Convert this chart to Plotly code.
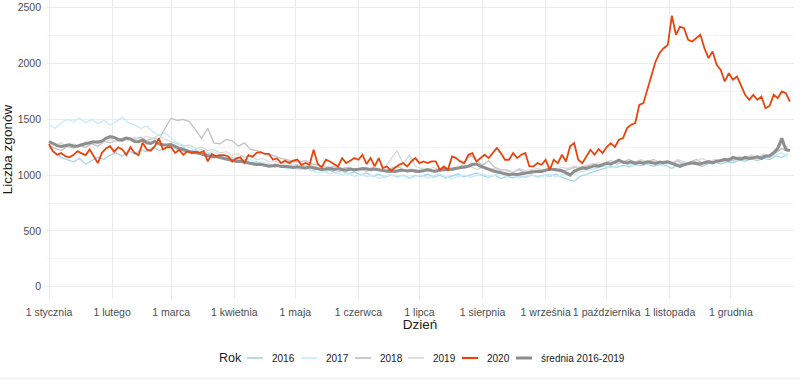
import pandas as pd
import plotly.graph_objects as go

# ---------------- data ----------------
# day-of-year offsets (0 = 1 January)
days_2 = list(range(0, 366, 2))   # sampling for 2020 and the 2016-2019 mean
days_3 = list(range(0, 366, 3))   # sampling for individual years 2016-2019

deaths_2020 = [
    1279, 1212, 1183, 1198, 1170, 1160, 1180, 1215, 1195, 1180, 1230, 1170, 1108, 1200, 1240, 1260,
    1210, 1250, 1230, 1180, 1250, 1200, 1180, 1290, 1230, 1220, 1260, 1330, 1230, 1250, 1250,
    1198, 1227, 1183, 1213, 1200, 1210, 1200, 1215, 1123, 1190, 1170, 1180, 1180, 1170, 1123,
    1150, 1160, 1110, 1180, 1165, 1200, 1205, 1190, 1190, 1140, 1150, 1110, 1130, 1110, 1130,
    1140, 1093, 1110, 1093, 1228, 1100, 1070, 1138, 1123, 1100, 1078, 1153, 1108, 1130, 1153,
    1138, 1183, 1100, 1153, 1078, 1153, 1063, 1078, 1040, 1063, 1093, 1108, 1078, 1123, 1153,
    1108, 1123, 1108, 1123, 1123, 1048, 1078, 1048, 1168, 1153, 1123, 1108, 1183, 1198, 1123,
    1153, 1183, 1153, 1198, 1243, 1198, 1138, 1138, 1198, 1153, 1183, 1198, 1078, 1078, 1108,
    1093, 1138, 1048, 1138, 1108, 1183, 1123, 1258, 1287, 1138, 1108, 1168, 1228, 1183, 1234,
    1198, 1252, 1287, 1252, 1317, 1332, 1422, 1452, 1467, 1630, 1645, 1765, 1900, 2019,
    2097, 2138, 2168, 2430, 2258, 2332, 2318, 2213, 2198, 2228, 2258, 2138, 2049, 2108, 1989,
    1944, 1840, 1914, 1855, 1884, 1795, 1720, 1675, 1720, 1675, 1705, 1600, 1620, 1720, 1690,
    1750, 1735, 1660,
]

mean_2016_2019 = [
    1302, 1285, 1265, 1257, 1265, 1272, 1262, 1260, 1272, 1280, 1287, 1300, 1295, 1305, 1330, 1345,
    1338, 1320, 1318, 1332, 1325, 1302, 1300, 1315, 1290, 1285, 1302, 1280, 1272, 1270, 1275,
    1255, 1240, 1228, 1215, 1205, 1200, 1195, 1183, 1175, 1165, 1168, 1158, 1150, 1140, 1135,
    1123, 1125, 1118, 1108, 1105, 1095, 1098, 1090, 1080, 1085, 1088, 1078, 1080, 1075, 1068,
    1075, 1070, 1065, 1072, 1063, 1058, 1050, 1055, 1060, 1052, 1058, 1050, 1045, 1055, 1048,
    1052, 1060, 1058, 1048, 1055, 1050, 1040, 1035, 1038, 1033, 1042, 1045, 1038, 1043, 1035,
    1033, 1040, 1048, 1040, 1035, 1045, 1050, 1048, 1055, 1060, 1065, 1070, 1080, 1095, 1100,
    1080, 1065, 1055, 1040, 1030, 1020, 1010, 1003, 1010, 1005, 1012, 1018, 1025, 1030, 1035,
    1033, 1045, 1055, 1050, 1048, 1040, 1020, 1000, 1035, 1050, 1065, 1060, 1075, 1085, 1080,
    1095, 1105, 1100, 1120, 1135, 1115, 1110, 1120, 1105, 1115, 1108, 1120, 1110, 1105,
    1118, 1112, 1120, 1105, 1090, 1078, 1095, 1100, 1110, 1105, 1100, 1112, 1120, 1110, 1125,
    1130, 1140, 1135, 1160, 1150, 1145, 1160, 1150, 1155, 1165, 1150, 1170, 1175, 1200, 1240,
    1330, 1230, 1220,
]

deaths_2016 = [
    1250, 1200, 1160, 1140, 1120, 1150, 1100, 1130, 1160, 1140, 1180,
    1200, 1170, 1220, 1190, 1230, 1210, 1250, 1220, 1240,
    1260, 1230, 1250, 1210, 1230, 1190, 1200, 1170, 1180, 1150, 1160,
    1130, 1140, 1110, 1120, 1090, 1100, 1070, 1085, 1060, 1075,
    1050, 1070, 1040, 1055, 1030, 1045, 1020, 1040, 1010, 1030,
    1000, 1020, 990, 1010, 980, 1005, 985, 1000, 975, 995,
    990, 1010, 980, 1000, 975, 990, 1010, 985, 1000, 1020,
    995, 980, 1000, 970, 990, 975, 995, 980, 1000, 985,
    1000, 990, 1010, 980, 960, 945, 990, 1010, 1030, 1045,
    1060, 1080, 1070, 1090, 1075, 1095, 1085, 1100, 1080, 1095,
    1090, 1060, 1100, 1085, 1110, 1095, 1080, 1105, 1120, 1100,
    1120, 1110, 1135, 1125, 1145, 1130, 1150, 1140, 1170, 1160, 1190,
]

deaths_2017 = [
    1450, 1420, 1470, 1500, 1480, 1510, 1470, 1500, 1460, 1490, 1450,
    1480, 1520, 1470, 1450, 1420, 1440, 1390, 1360, 1380,
    1330, 1290, 1270, 1250, 1220, 1230, 1200, 1210, 1180, 1170, 1150,
    1160, 1130, 1140, 1110, 1120, 1090, 1100, 1080, 1060, 1070,
    1050, 1060, 1040, 1020, 1035, 1010, 1030, 1000, 1020, 990,
    1010, 985, 1000, 970, 990, 1005, 980, 995, 970, 990,
    1000, 975, 995, 1010, 985, 970, 990, 1000, 980, 995,
    1010, 990, 1000, 1020, 985, 995, 975, 990, 1005, 980,
    995, 1010, 985, 1000, 1020, 1005, 1030, 1040, 1055, 1070,
    1080, 1065, 1090, 1075, 1100, 1085, 1110, 1090, 1100, 1115,
    1095, 1110, 1090, 1120, 1100, 1130, 1110, 1125, 1105, 1130,
    1140, 1120, 1150, 1135, 1160, 1145, 1170, 1155, 1180, 1200, 1160,
]

deaths_2018 = [
    1260, 1240, 1220, 1260, 1240, 1270, 1250, 1280, 1260, 1300, 1290,
    1310, 1300, 1330, 1320, 1340, 1310, 1330, 1320, 1420,
    1510, 1490, 1500, 1480, 1400, 1330, 1420, 1290, 1280, 1320, 1310,
    1260, 1290, 1230, 1220, 1200, 1190, 1170, 1150, 1140, 1120,
    1120, 1130, 1100, 1090, 1080, 1070, 1085, 1060, 1070, 1050,
    1060, 1045, 1070, 1050, 1040, 1060, 1080, 1050, 1030, 1050,
    1040, 1060, 1030, 1050, 1070, 1040, 1060, 1110, 1180, 1130,
    1090, 1130, 1070, 1050, 1040, 1030, 1050, 1020, 1040, 1030,
    1050, 1040, 1060, 1030, 1050, 1070, 1060, 1080, 1100, 1090,
    1110, 1130, 1100, 1120, 1140, 1110, 1130, 1120, 1140, 1110,
    1120, 1100, 1130, 1090, 1120, 1140, 1110, 1130, 1120, 1140,
    1150, 1130, 1160, 1140, 1170, 1150, 1180, 1160, 1200, 1240, 1210,
]

deaths_2019 = [
    1300, 1270, 1290, 1250, 1280, 1260, 1300, 1280, 1310, 1290, 1320,
    1300, 1330, 1310, 1340, 1320, 1350, 1330, 1360, 1320,
    1300, 1280, 1260, 1270, 1240, 1250, 1220, 1230, 1200, 1210, 1180,
    1190, 1160, 1170, 1140, 1150, 1120, 1130, 1100, 1110, 1090,
    1100, 1080, 1090, 1070, 1080, 1060, 1070, 1050, 1060, 1040,
    1050, 1030, 1060, 1040, 1070, 1150, 1220, 1100, 1180, 1080,
    1060, 1050, 1070, 1040, 1060, 1050, 1070, 1060, 1080, 1050,
    1070, 1050, 1060, 1040, 1050, 1030, 1060, 1040, 1050, 1060,
    1040, 1060, 1050, 1070, 1060, 1080, 1070, 1090, 1100, 1110,
    1100, 1120, 1110, 1130, 1100, 1120, 1140, 1110, 1130, 1120,
    1130, 1110, 1140, 1120, 1100, 1130, 1150, 1120, 1140, 1130,
    1150, 1140, 1170, 1150, 1180, 1160, 1190, 1170, 1210, 1280, 1250,
]

month_ticks = ["2020-01-01", "2020-02-01", "2020-03-01", "2020-04-01", "2020-05-01", "2020-06-01",
               "2020-07-01", "2020-08-01", "2020-09-01", "2020-10-01", "2020-11-01", "2020-12-01"]
month_labels = ["1 stycznia", "1 lutego", "1 marca", "1 kwietnia", "1 maja", "1 czerwca",
                "1 lipca", "1 sierpnia", "1 września", "1 października", "1 listopada", "1 grudnia"]
y_ticks = [0, 500, 1000, 1500, 2000, 2500]

legend_title = "Rok"
series_names = ["2016", "2017", "2018", "2019", "2020", "średnia 2016-2019"]

# ---------------- figure ----------------
W, H = 800, 380
ML, MR, MT, MB = 46, 6, 0, 81
PW, PH = W - ML - MR, H - MT - MB

base = pd.Timestamp("2020-01-01")
x2 = [base + pd.Timedelta(days=d) for d in days_2]
x3 = [base + pd.Timedelta(days=d) for d in days_3]

styles = {
    "2016": dict(color="#a6d5e7", width=1.3),
    "2017": dict(color="#c6ecf6", width=1.3),
    "2018": dict(color="#c2c2c6", width=1.3),
    "2019": dict(color="#dadada", width=1.3),
    "2020": dict(color="#e8450e", width=1.8),
    "średnia 2016-2019": dict(color="#8e8e8e", width=3),
}

fig = go.Figure()
for name, vals in zip(series_names[:4], [deaths_2016, deaths_2017, deaths_2018, deaths_2019]):
    fig.add_trace(go.Scatter(x=x3, y=vals, mode="lines", name=name, line=styles[name]))
fig.add_trace(go.Scatter(x=x2, y=mean_2016_2019, mode="lines", name=series_names[5],
                         line=styles[series_names[5]]))
fig.add_trace(go.Scatter(x=x2, y=deaths_2020, mode="lines", name=series_names[4],
                         line=styles[series_names[4]]))

# ---- hand-placed legend (ggplot-style, compact) ----
def px_x(px):
    return (px - ML) / PW

def px_y(py):
    return (H - MB - py) / PH

leg_y = 358
fig.add_annotation(x=px_x(217), y=px_y(leg_y), xref="paper", yref="paper", text=legend_title,
                   showarrow=False, xanchor="left", yanchor="middle",
                   font=dict(size=12.5, color="#1a1a1a"))
key_starts = [247, 301, 355, 408, 462, 516]
for name, kx in zip(series_names, key_starts):
    st = styles[name]
    fig.add_shape(type="line", xref="paper", yref="paper",
                  x0=px_x(kx), x1=px_x(kx + 16), y0=px_y(leg_y), y1=px_y(leg_y),
                  line=dict(color=st["color"], width=min(st["width"] + 0.4, 3)))
    fig.add_annotation(x=px_x(kx + 23), y=px_y(leg_y), xref="paper", yref="paper", text=name,
                       showarrow=False, xanchor="left", yanchor="middle",
                       font=dict(size=10, color="#1a1a1a"))

# faint frame line at the bottom edge of the image
fig.add_shape(type="line", xref="paper", yref="paper",
              x0=px_x(0), x1=px_x(W), y0=px_y(378.5), y1=px_y(378.5),
              line=dict(color="#eeeeee", width=1.5))

font_family = "Liberation Sans, Arial, sans-serif"
fig.update_layout(
    width=W, height=H,
    margin=dict(l=ML, r=MR, t=MT, b=MB, autoexpand=False),
    paper_bgcolor="white", plot_bgcolor="white",
    font=dict(family=font_family, size=11, color="#4d4d4d"),
    showlegend=False,
    hovermode=False,
    xaxis=dict(
        type="date",
        range=["2019-12-30 12:40", "2021-01-01 00:00"],
        tickvals=month_ticks, ticktext=month_labels, tickangle=0,
        showgrid=True, gridcolor="#ebebeb", gridwidth=1,
        zeroline=False, showline=False, ticks="", automargin=False,
        ticklabelstandoff=5,
        tickfont=dict(size=10.5, color="#4d4d4d"),
        title=dict(text="Dzień", font=dict(size=13.5, color="#1a1a1a"), standoff=2),
    ),
    yaxis=dict(
        range=[-110, 2570],
        tickvals=y_ticks, automargin=False,
        showgrid=True, gridcolor="#ebebeb", gridwidth=1,
        minor=dict(tickvals=[250, 750, 1250, 1750, 2250], showgrid=True, gridcolor="#f5f5f5", gridwidth=1),
        zeroline=False, showline=False, ticks="",
        ticklabelstandoff=4,
        tickfont=dict(size=10.5, color="#4d4d4d"),
        title=dict(text="Liczba zgonów", font=dict(size=13.5, color="#1a1a1a"), standoff=1),
    ),
)

fig.write_html(
    "out.html",
    config={"displayModeBar": False, "staticPlot": True},
    post_script="document.body.style.margin='0';document.body.style.padding='0';"
                "document.body.style.overflow='hidden';",
)
